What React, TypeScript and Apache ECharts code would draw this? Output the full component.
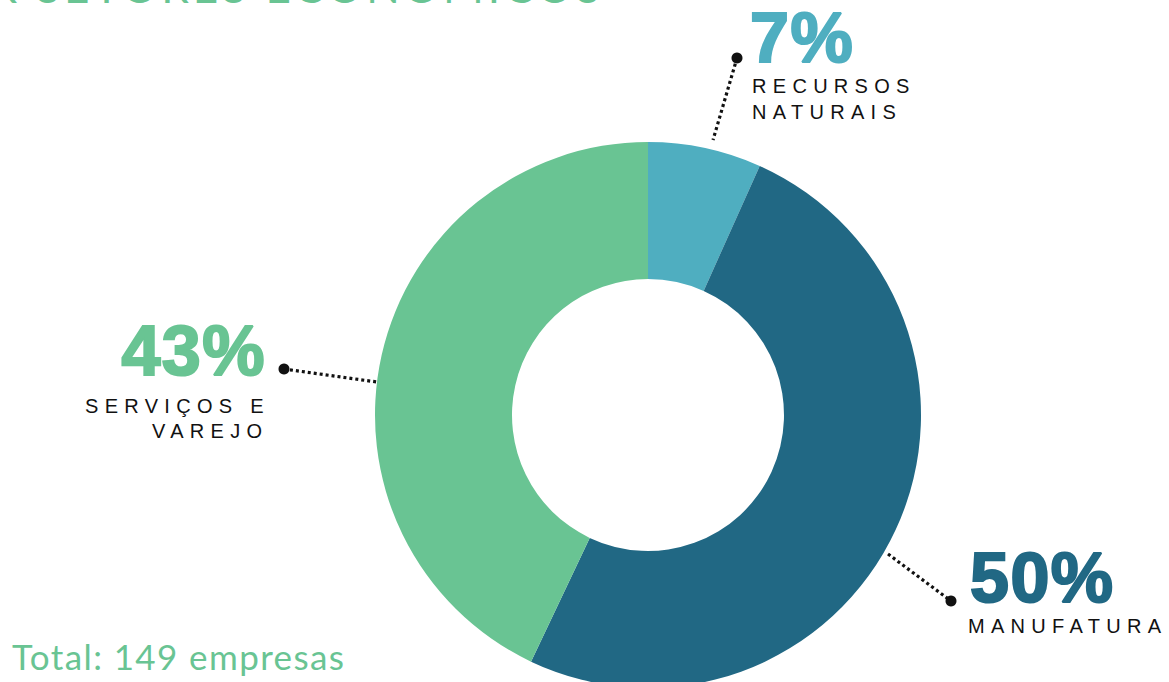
import React, { useEffect, useRef } from "react";
import * as echarts from "echarts";

const categories = ["RECURSOS NATURAIS", "MANUFATURA", "SERVIÇOS E VAREJO"];
const labelLines = [["RECURSOS", "NATURAIS"], ["MANUFATURA"], ["SERVIÇOS E", "VAREJO"]];
const companyCounts = [10, 75, 64];
const sliceColors = ["#4FAEC0", "#216884", "#69C493"];
const titleText = "POR SETORES ECONÔMICOS";

const total = companyCounts.reduce((a, b) => a + b, 0);
const percents = companyCounts.map((v) => Math.round((v / total) * 100) + "%");
const totalText = "Total: " + total + " empresas";

export default function App() {
  const ref = useRef<HTMLDivElement>(null);
  useEffect(() => {
    if (!ref.current) return;
    const chart = echarts.init(ref.current, null, { renderer: "svg" });
    const green = sliceColors[2];
    const small = { fontFamily: "Liberation Sans, Arial, sans-serif", fontSize: 20, fill: "#111" };
    const big = { fontFamily: "Liberation Sans, Arial, sans-serif", fontSize: 70, fontWeight: "bold", lineWidth: 2.2 };
    const dash = { stroke: "#111", lineWidth: 3.2, lineDash: [3, 3] };
    const graphic: any[] = [
      // title (cropped at top)
      { type: "text", x: 604, y: -14, style: { text: titleText, fontFamily: "Lato, sans-serif", fontSize: 44, fill: green, textAlign: "right", textVerticalAlign: "middle" } },
      // recursos naturais
      { type: "text", x: 750, y: 38, style: { ...big, text: percents[0], fill: sliceColors[0], stroke: sliceColors[0], textAlign: "left", textVerticalAlign: "middle" } },
      { type: "text", x: 752, y: 86, style: { ...small, text: labelLines[0][0], textAlign: "left", textVerticalAlign: "middle" } },
      { type: "text", x: 752, y: 112, style: { ...small, text: labelLines[0][1], textAlign: "left", textVerticalAlign: "middle" } },
      { type: "line", shape: { x1: 737, y1: 58, x2: 713, y2: 140 }, style: dash },
      { type: "circle", shape: { cx: 737, cy: 58, r: 5.5 }, style: { fill: "#111" } },
      // manufatura
      { type: "text", x: 970, y: 578, style: { ...big, text: percents[1], fill: sliceColors[1], stroke: sliceColors[1], textAlign: "left", textVerticalAlign: "middle" } },
      { type: "text", x: 968, y: 626, style: { ...small, text: labelLines[1][0], textAlign: "left", textVerticalAlign: "middle" } },
      { type: "line", shape: { x1: 888, y1: 554, x2: 951, y2: 601 }, style: dash },
      { type: "circle", shape: { cx: 951, cy: 601, r: 5.5 }, style: { fill: "#111" } },
      // servicos e varejo
      { type: "text", x: 266, y: 351, style: { ...big, text: percents[2], fill: sliceColors[2], stroke: sliceColors[2], textAlign: "right", textVerticalAlign: "middle" } },
      { type: "text", x: 85, y: 406, style: { ...small, text: labelLines[2][0], textAlign: "left", textVerticalAlign: "middle" } },
      { type: "text", x: 152, y: 431, style: { ...small, text: labelLines[2][1], textAlign: "left", textVerticalAlign: "middle" } },
      { type: "line", shape: { x1: 284, y1: 369, x2: 377, y2: 382 }, style: dash },
      { type: "circle", shape: { cx: 284, cy: 369, r: 5.5 }, style: { fill: "#111" } },
      // total
      { type: "text", x: 12, y: 656, style: { text: totalText, fontFamily: "Lato, sans-serif", fontSize: 35, fill: green, textAlign: "left", textVerticalAlign: "middle" } },
    ];
    chart.setOption({
      animation: false,
      graphic,
      series: [
        {
          type: "pie",
          silent: true,
          center: [648, 415],
          radius: [136, 273],
          startAngle: 90,
          clockwise: true,
          label: { show: false },
          labelLine: { show: false },
          emphasis: { disabled: true },
          itemStyle: { borderWidth: 0 },
          data: categories.map((name, i) => ({ name, value: companyCounts[i], itemStyle: { color: sliceColors[i] } })),
        },
      ],
    });
    const spacing: Record<string, number> = {};
    labelLines.flat().forEach((t) => (spacing[t] = 6.3));
    spacing[titleText] = 4;
    spacing[totalText] = 1.4;
    percents.forEach((p) => (spacing[p] = 1.5));
    const patch = () => {
      ref.current?.querySelectorAll("text").forEach((t) => {
        const s = spacing[(t.textContent || "").trim()];
        if (s) (t as any).style.letterSpacing = s + "px";
      });
    };
    patch();
    chart.on("finished", patch);
    return () => chart.dispose();
  }, []);
  return <div ref={ref} style={{ position: "absolute", left: 0, top: 0, width: 1169, height: 682 }} />;
}
